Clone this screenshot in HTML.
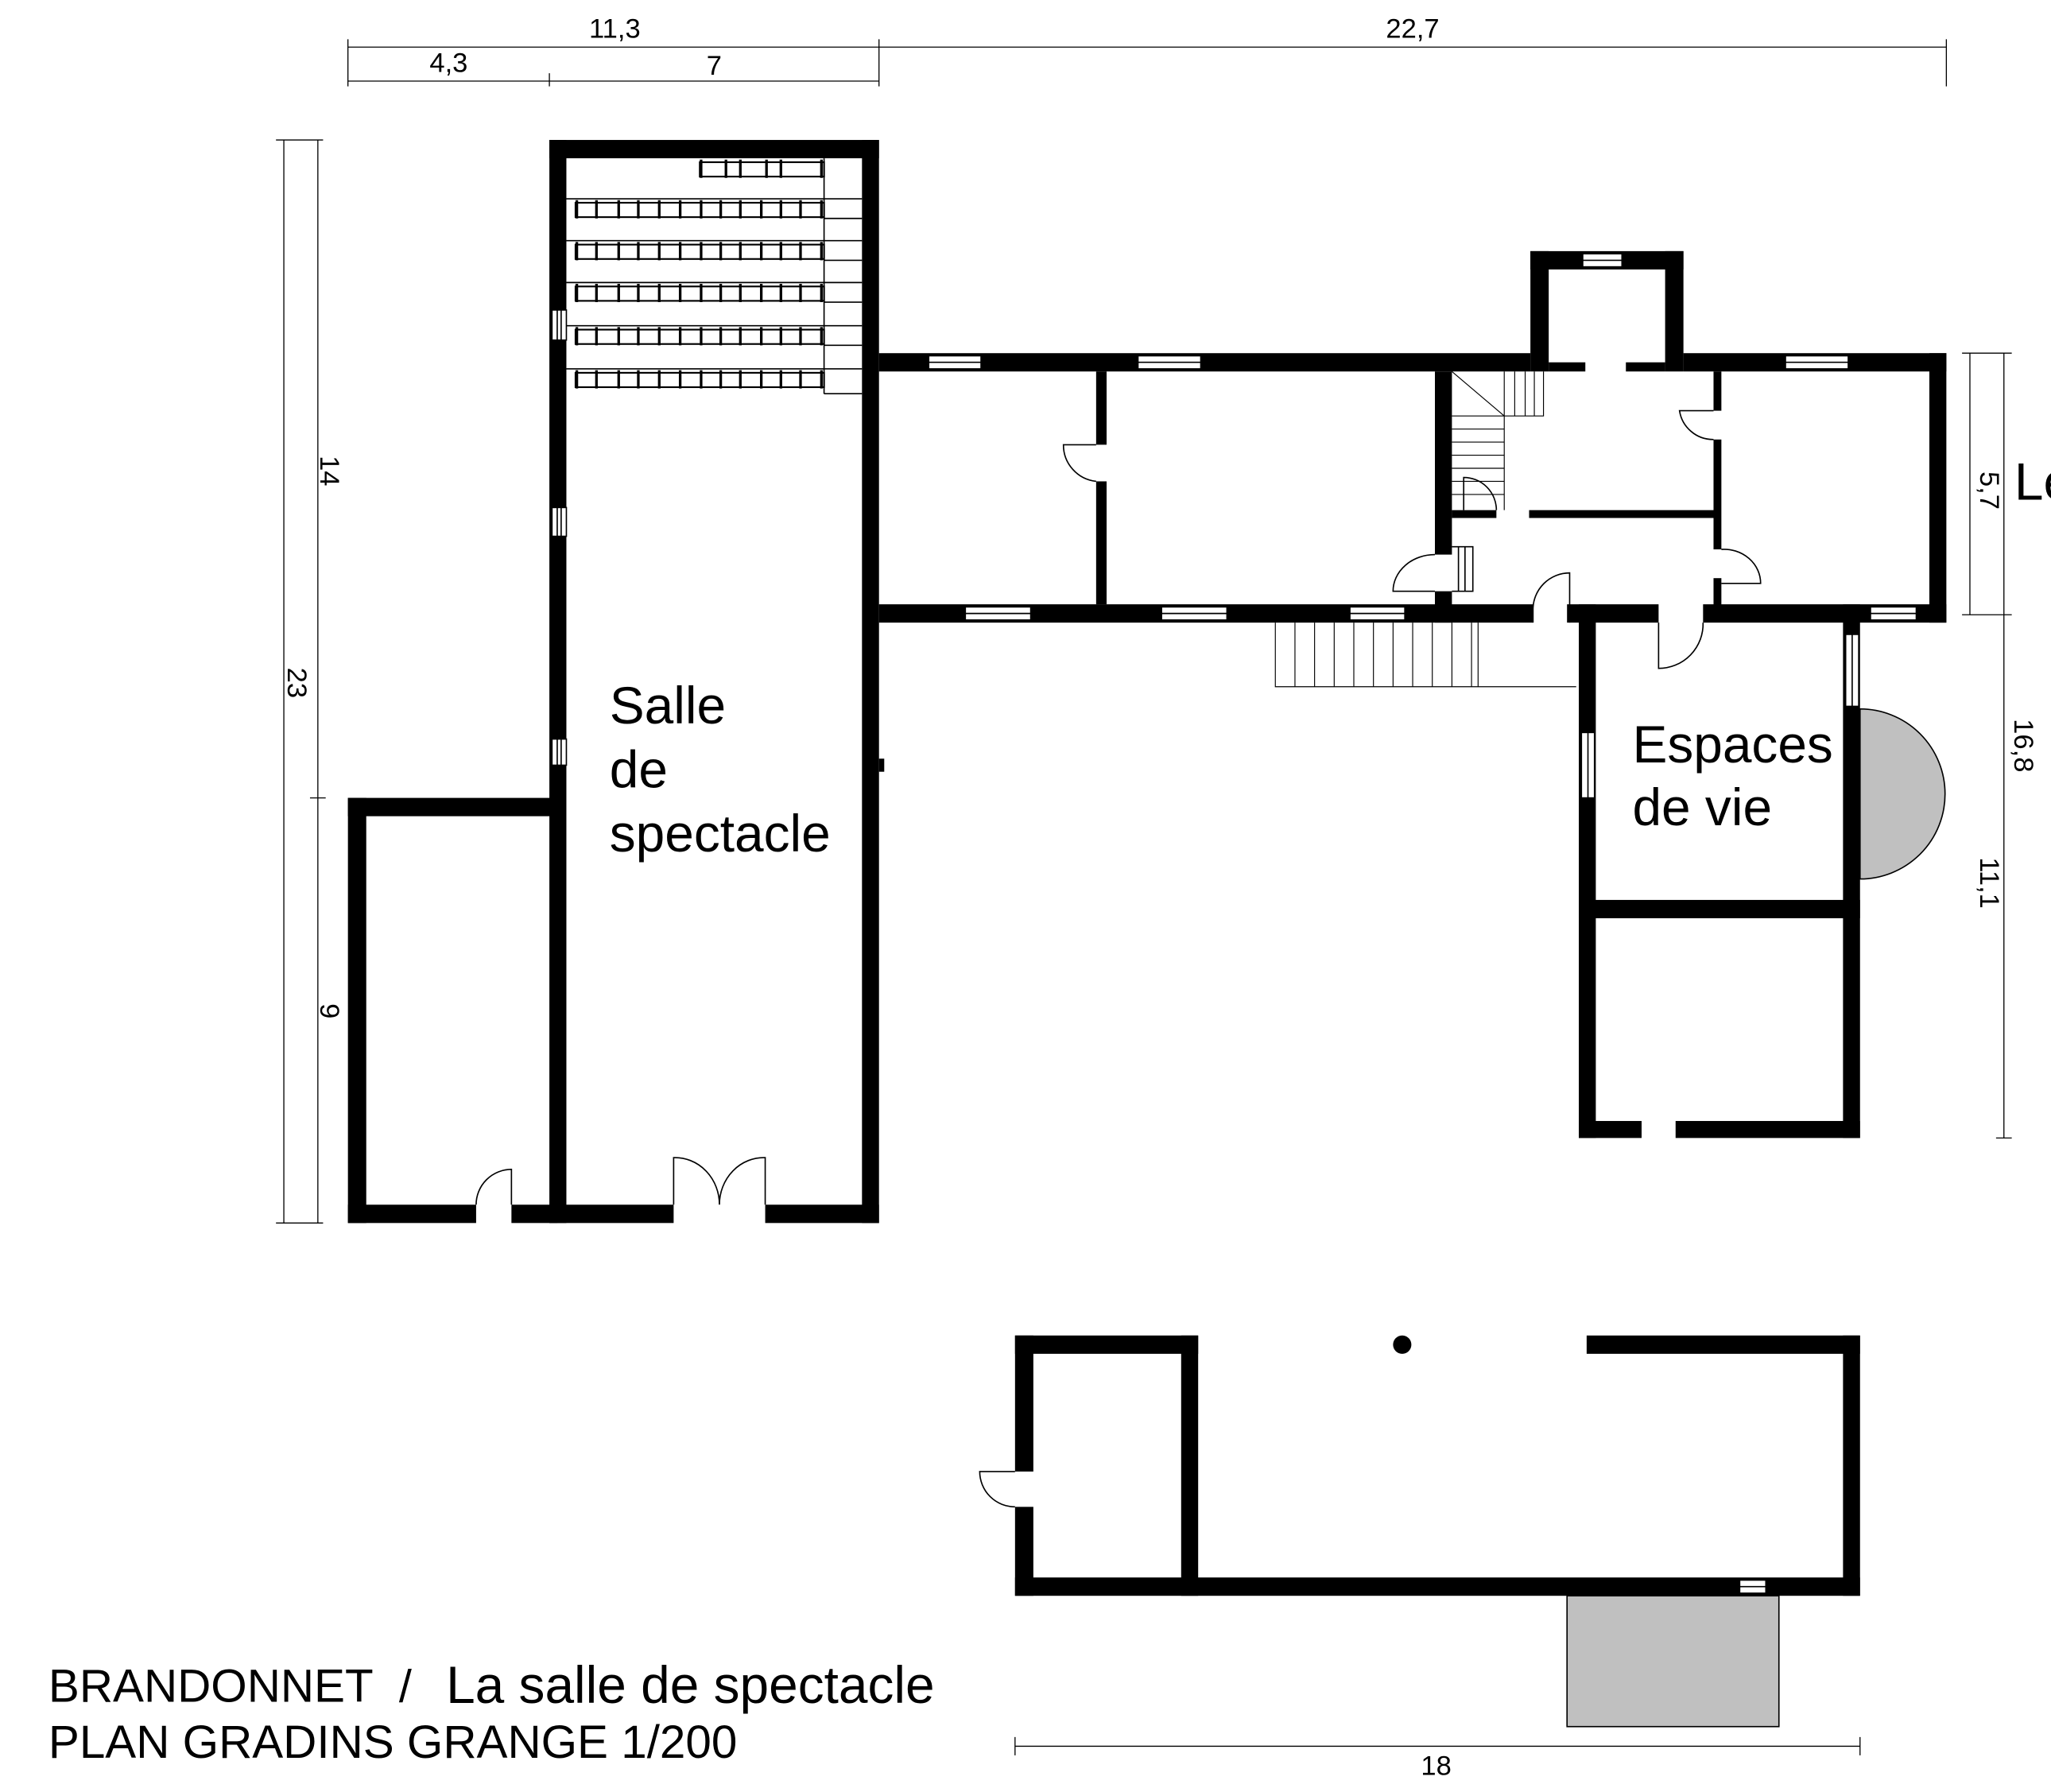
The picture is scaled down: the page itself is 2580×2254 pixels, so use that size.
<!DOCTYPE html>
<html><head><style>html,body{margin:0;padding:0;background:#fff}svg{display:block}</style></head><body>
<svg width="2580" height="2254" viewBox="0 0 1568 1370" preserveAspectRatio="none" xmlns="http://www.w3.org/2000/svg" font-family="Liberation Sans, sans-serif">
<rect width="1568" height="1370" fill="#fff"/>
<g fill="#000">
<rect x="420" y="107" width="252" height="14"/>
<rect x="420" y="107" width="13" height="828"/>
<rect x="659" y="107" width="13" height="828"/>
<rect x="420" y="921" width="95" height="14"/>
<rect x="585" y="921" width="87" height="14"/>
<rect x="672" y="580" width="4" height="10"/>
<rect x="266" y="610" width="160" height="14"/>
<rect x="266" y="610" width="14" height="325"/>
<rect x="266" y="921" width="98" height="14"/>
<rect x="391" y="921" width="35" height="14"/>
<rect x="672" y="270" width="498" height="14"/>
<rect x="1287" y="270" width="201" height="14"/>
<rect x="1475" y="270" width="13" height="206"/>
<rect x="672" y="462" width="500" height="14"/>
<rect x="1198" y="462" width="70" height="14"/>
<rect x="1302" y="462" width="186" height="14"/>
<rect x="838" y="284" width="8" height="56"/>
<rect x="838" y="368" width="8" height="94"/>
<rect x="1097" y="284" width="13" height="140"/>
<rect x="1097" y="452" width="13" height="24"/>
<rect x="1110" y="390" width="34" height="6"/>
<rect x="1169" y="390" width="146" height="6"/>
<rect x="1310" y="284" width="6" height="30"/>
<rect x="1310" y="336" width="6" height="84"/>
<rect x="1310" y="442" width="6" height="22"/>
<rect x="1170" y="192" width="117" height="14"/>
<rect x="1170" y="192" width="14" height="92"/>
<rect x="1273" y="192" width="14" height="92"/>
<rect x="1184" y="277" width="28" height="7"/>
<rect x="1243" y="277" width="30" height="7"/>
<rect x="1207" y="462" width="13" height="408"/>
<rect x="1409" y="462" width="13" height="408"/>
<rect x="1207" y="688" width="215" height="14"/>
<rect x="1207" y="857" width="48" height="13"/>
<rect x="1281" y="857" width="141" height="13"/>
<rect x="776" y="1021" width="140" height="14"/>
<rect x="1213" y="1021" width="209" height="14"/>
<rect x="776" y="1021" width="14" height="104"/>
<rect x="776" y="1152" width="14" height="68"/>
<rect x="903" y="1021" width="13" height="199"/>
<rect x="1409" y="1021" width="13" height="199"/>
<rect x="776" y="1206" width="646" height="14"/>
<circle cx="1072" cy="1028" r="7"/>
</g>
<path d="M1422 542 A65 65 0 0 1 1422 672 Z" fill="#c0c0c0" stroke="#000" stroke-width="1"/>
<rect x="1198" y="1220" width="162" height="100" fill="#c0c0c0" stroke="#000" stroke-width="1"/>
<g fill="#fff" stroke="#000" stroke-width="1">
<rect x="422" y="237" width="11" height="23"/><rect x="422" y="388" width="11" height="22"/><rect x="422" y="565" width="11" height="20"/>
<rect x="710" y="272" width="40" height="10"/><rect x="870" y="272" width="48" height="10"/>
<rect x="738" y="464" width="50" height="10"/><rect x="888" y="464" width="50" height="10"/><rect x="1032" y="464" width="42" height="10"/>
<rect x="1210" y="194" width="30" height="10"/><rect x="1365" y="272" width="48" height="10"/><rect x="1430" y="464" width="35" height="10"/>
<rect x="1209" y="560" width="10" height="50"/><rect x="1411" y="485" width="10" height="55"/>
<rect x="1330" y="1208" width="20" height="10"/>
</g>
<g stroke="#000" stroke-width="1" fill="none">
<path d="M426 237v23M429 237v23M426 388v22M429 388v22M426 565v20M429 565v20"/>
<path d="M710 277h40M870 277h48M738 469h50M888 469h50M1032 469h42M1210 199h30M1365 277h48M1430 469h35M1330 1213h20"/>
<path d="M1214 560v50M1416 485v55"/>
<path d="M433 152h197M433 184h197M433 216h197M433 249h197M433 282h197"/>
<path d="M630 121v180M630 301h29"/>
<path d="M630 152h29M630 167h29M630 184h29M630 199h29M630 216h29M630 231h29M630 249h29M630 264h29M630 282h29"/>
<path d="M838 340 h-25 a28 28 0 0 0 25 28"/>
<path d="M515 921 v-36 a34 36 0 0 1 35 36 M585 921 v-36 a34 36 0 0 0 -35 36"/>
<path d="M364 921 a27 27 0 0 1 27 -27 v27"/>
<path d="M776 1125 h-27 a27 27 0 0 0 27 27"/>
<path d="M1310 314 h-26 a26 26 0 0 0 26 22"/>
<path d="M1144 390 a25 25 0 0 0 -25 -25 v25"/>
<path d="M1316 420 a28 26 0 0 1 30 26 h-30"/>
<path d="M1172 476 v-10 a28 28 0 0 1 28 -28 v38"/>
<path d="M1268 476 v35 a34 34 0 0 0 34 -35"/>
<path d="M1097 424 a32 28 0 0 0 -32 28 h32"/>
<path d="M1110 418h16v34h-16M1115 418v34M1120 418v34"/>
<path d="M1110 284 L1150 318 M1150 284v34h30v-34M1158 284v34M1166 284v34M1173 284v34M1110 318h40v72M1110 328h40M1110 338h40M1110 348h40M1110 358h40M1110 368h40M1110 378h40" stroke-width="0.7"/>
<path d="M975 476v49h230M990 476v49M1005 476v49M1020 476v49M1035 476v49M1050 476v49M1065 476v49M1080 476v49M1095 476v49M1110 476v49M1125 476v49M1130 476v49" stroke-width="0.7"/>
<path stroke-width="0.8" d="M266 36h1222M266 62h406M266 30v36M420 56v10M672 30v36M1488 30v36M217 107v828M243 107v828M211 107h36M237 610h12M211 935h36M1506 270v200M1532 270v600M1500 270h38M1500 470h38M1526 870h12M776 1335h646M776 1328v14M1422 1328v14"/>
</g>
<g fill="#fff" stroke="#000" stroke-width="1.3">
<rect x="535" y="124" width="95" height="11"/>
<rect x="440" y="155" width="190" height="11"/>
<rect x="440" y="187" width="190" height="11"/>
<rect x="440" y="219" width="190" height="11"/>
<rect x="440" y="252" width="190" height="11"/>
<rect x="440" y="285" width="190" height="11"/>
</g>
<g stroke="#000" stroke-width="2">
<path d="M536 122v14M566 122v14M597 122v14M628 122v14M555 122v14M586 122v14"/>
<path id="r" d="M441 153v14M473 153v14M504 153v14M536 153v14M566 153v14M597 153v14M628 153v14M456 153v14M488 153v14M520 153v14M551 153v14M582 153v14M612 153v14"/>
<use href="#r" y="32"/><use href="#r" y="64"/><use href="#r" y="97"/><use href="#r" y="130"/>
</g>
<g fill="#000" font-size="21">
<text x="470" y="29" text-anchor="middle">11,3</text>
<text x="1080" y="29" text-anchor="middle">22,7</text>
<text x="343" y="55" text-anchor="middle">4,3</text>
<text x="546" y="57" text-anchor="middle">7</text>
<text x="1098" y="1357" text-anchor="middle">18</text>
<text transform="translate(245,360) rotate(90)" text-anchor="middle">14</text>
<text transform="translate(220,522) rotate(90)" text-anchor="middle">23</text>
<text transform="translate(245,773) rotate(90)" text-anchor="middle">9</text>
<text transform="translate(1514,375) rotate(90)" text-anchor="middle">5,7</text>
<text transform="translate(1540,570) rotate(90)" text-anchor="middle">16,8</text>
<text transform="translate(1514,675) rotate(90)" text-anchor="middle">11,1</text>
</g>
<g fill="#000" font-size="40">
<text x="466" y="553">Salle</text>
<text x="466" y="602">de</text>
<text x="466" y="651">spectacle</text>
<text x="1248" y="583">Espaces</text>
<text x="1248" y="631">de vie</text>
<text x="1540" y="382">Le</text>
</g>
<text x="37" y="1301" font-size="35.5" fill="#000">BRANDONNET</text>
<text x="305" y="1301" font-size="35" fill="#000">/</text>
<text x="341" y="1302" font-size="40" fill="#000">La salle de spectacle</text>
<text x="37" y="1344" font-size="35.5" fill="#000">PLAN GRADINS GRANGE 1/200</text>
</svg>
</body></html>
